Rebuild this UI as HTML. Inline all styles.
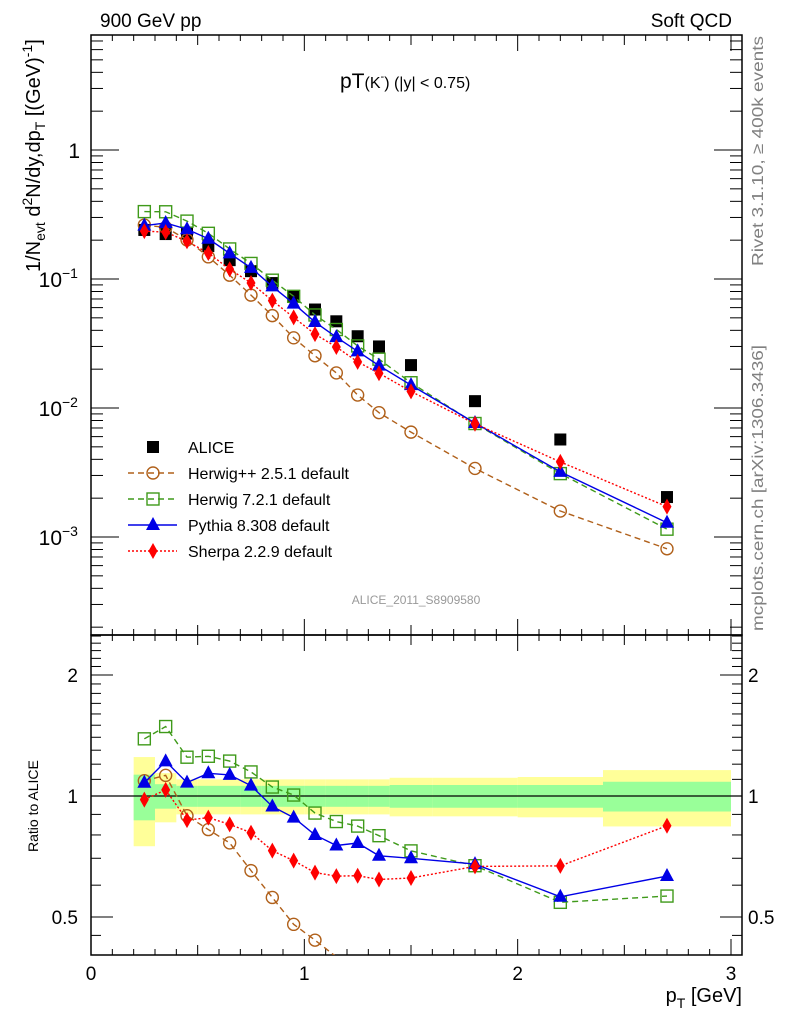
<!DOCTYPE html>
<html><head><meta charset="utf-8"><style>
body{margin:0;background:#fff;}
svg{display:block;font-family:"Liberation Sans",Arial,sans-serif;}
</style></head><body>
<svg id="chart" width="786" height="1024" viewBox="0 0 786 1024" xmlns="http://www.w3.org/2000/svg">
<text x="100" y="27" font-size="19">900 GeV pp</text>
<text x="732" y="27" font-size="19" text-anchor="end">Soft QCD</text>
<text x="340" y="88" font-size="21">pT<tspan font-size="16">(K</tspan><tspan font-size="11" dy="-8">-</tspan><tspan font-size="16" dy="8">) (|y| &lt; 0.75)</tspan></text>
<text transform="translate(763,266) rotate(-90)" font-size="16" fill="#808080" textLength="230" lengthAdjust="spacingAndGlyphs">Rivet 3.1.10, ≥ 400k events</text>
<text transform="translate(763,631) rotate(-90)" font-size="16" fill="#808080" textLength="286" lengthAdjust="spacingAndGlyphs">mcplots.cern.ch [arXiv:1306.3436]</text>
<text x="416" y="604" font-size="12" fill="#999" text-anchor="middle">ALICE_2011_S8909580</text>
<text transform="translate(40,272) rotate(-90)" font-size="20">1/N<tspan font-size="14" dy="5">evt</tspan><tspan dy="-5"> d</tspan><tspan font-size="14" dy="-8">2</tspan><tspan dy="8">N/dy,dp</tspan><tspan font-size="14" dy="5">T</tspan><tspan dy="-5"> [(GeV)</tspan><tspan font-size="14" dy="-8">-1</tspan><tspan dy="8">]</tspan></text>
<text transform="translate(38,852) rotate(-90)" font-size="14">Ratio to ALICE</text>
<text x="742" y="1002" font-size="20" text-anchor="end">p<tspan font-size="14" dy="6">T</tspan><tspan dy="-6"> [GeV]</tspan></text>
<g id="g-bands"></g>
<g id="g-axes"></g>
<g id="g-main"></g>
<g id="g-ratio"></g>
<g id="g-legend"></g>
</svg>
<script>
const pts = [0.25,0.35,0.45,0.55,0.65,0.75,0.85,0.95,1.05,1.15,1.25,1.35,1.5,1.8,2.2,2.7];
const binLo = [0.2,0.3,0.4,0.5,0.6,0.7,0.8,0.9,1.0,1.1,1.2,1.3,1.4,1.6,2.0,2.4];
const binHi = [0.3,0.4,0.5,0.6,0.7,0.8,0.9,1.0,1.1,1.2,1.3,1.4,1.6,2.0,2.4,3.0];
const alice = [0.240,0.223,0.225,0.180,0.140,0.115,0.093,0.073,0.058,0.047,0.036,0.030,0.0215,0.0113,0.0057,0.00204];
const aliceStatErr = [0.13,0.07,0.06,0.06,0.06,0.06,0.06,0.06,0.06,0.06,0.06,0.06,0.065,0.065,0.065,0.085];
const aliceTotErr = [0.25,0.14,0.10,0.10,0.10,0.10,0.10,0.10,0.10,0.10,0.10,0.10,0.11,0.11,0.115,0.16];
const herwigpp = [0.262,0.251,0.201,0.1485,0.107,0.075,0.052,0.035,0.0254,0.0187,0.0126,0.0092,0.0065,0.0034,0.00159,0.00081];
const herwig7 = [0.333,0.332,0.281,0.226,0.171,0.132,0.0979,0.0734,0.0526,0.0406,0.0303,0.0239,0.0157,0.00758,0.0031,0.00115];
const pythia = [0.259,0.272,0.243,0.205,0.158,0.122,0.0876,0.0645,0.0464,0.0354,0.0275,0.0213,0.01505,0.00765,0.0032,0.00129];
const sherpa = [0.235,0.231,0.196,0.159,0.119,0.0932,0.068,0.0504,0.0374,0.0297,0.0228,0.0186,0.01344,0.00755,0.00382,0.00172];
const mainTicks = [1,0.1,0.01,0.001];
const mainTickLabels = ["1","10","10","10"];
const mainTickExp = ["","−1","−2","−3"];
const ratioTicks = [2,1,0.5];
const ratioTickLabels = ["2","1","0.5"];
const xTicks = [0,1,2,3];
const xTickLabels = ["0","1","2","3"];

const NS="http://www.w3.org/2000/svg";
const L=91,R=742,MT=35,MB=635,RT=635,RB=955;
const X=v=>L+v*213.33;
const Ym=v=>150-129*Math.log10(v);
const Yr=v=>796-121*Math.log2(v);
function mk(tag,attrs,parent){const e=document.createElementNS(NS,tag);for(const k in attrs)e.setAttribute(k,attrs[k]);parent.appendChild(e);return e;}
const gA=document.getElementById('g-axes'),gB=document.getElementById('g-bands'),gM=document.getElementById('g-main'),gR=document.getElementById('g-ratio'),gL=document.getElementById('g-legend');

const cpR=mk('clipPath',{id:'cr'},gB);mk('rect',{x:L,y:RT,width:R-L,height:RB-RT},cpR);
for(let i=0;i<pts.length;i++){
  let r=mk('rect',{x:X(binLo[i]),width:X(binHi[i])-X(binLo[i]),y:Yr(1+aliceTotErr[i]),height:Yr(1-aliceTotErr[i])-Yr(1+aliceTotErr[i]),fill:'#ffff99'},gB);
  
  
}
for(let i=0;i<pts.length;i++){
  let r=mk('rect',{x:X(binLo[i]),width:X(binHi[i])-X(binLo[i]),y:Yr(1+aliceStatErr[i]),height:Yr(1-aliceStatErr[i])-Yr(1+aliceStatErr[i]),fill:'#99ff99'},gB);
  
  
}
let one=mk('line',{x1:L,x2:R,y1:Yr(1),y2:Yr(1),stroke:'#000','stroke-width':1.2},gB);



let f1=mk('rect',{x:L,y:MT,width:R-L,height:MB-MT,fill:'none',stroke:'#000','stroke-width':1.5},gA);


let f2=mk('rect',{x:L,y:RT,width:R-L,height:RB-RT,fill:'none',stroke:'#000','stroke-width':1.5},gA);


for(let v=0;v<=3.0001;v+=0.1){
  const major=Math.abs(v-Math.round(v))<1e-6, half=Math.abs(v*2-Math.round(v*2))<1e-6;
  const len=major?16:(half?10:6);
  const x=X(v);
  [[MT,1],[MB,-1],[RT,1],[RB,-1]].forEach(([y,d])=>mk('line',{x1:x,x2:x,y1:y,y2:y+d*len,stroke:'#000','stroke-width':1},gA));
}
xTicks.forEach((v,i)=>{let t=mk('text',{x:X(v),y:980,'font-size':19,'text-anchor':'middle'},gA);t.textContent=xTickLabels[i];

});
for(let d=-4;d<=1;d++)for(let m=1;m<10;m++){
  const v=m*Math.pow(10,d),y=Ym(v);if(y<MT||y>MB)continue;
  const len=m==1?28:12;
  mk('line',{x1:L,x2:L+len,y1:y,y2:y,stroke:'#000'},gA);
  mk('line',{x1:R,x2:R-len,y1:y,y2:y,stroke:'#000'},gA);
}
mainTicks.forEach((v,i)=>{let t=mk('text',{x:mainTickExp[i]?62:80,y:Ym(v)+8,'font-size':21,'text-anchor':'end'},gA);t.textContent=mainTickLabels[i];


if(mainTickExp[i]){let e=mk('text',{x:62,y:Ym(v)-1,'font-size':14},gA);e.textContent=mainTickExp[i];}});
[0.4,0.45,0.5,0.6,0.7,0.8,0.9,1,1.1,1.2,1.3,1.4,1.5,1.6,1.7,1.8,1.9,2,2.1,2.2,2.3,2.4,2.5].forEach(v=>{
  const y=Yr(v);if(y<RT||y>RB)return;const len=(v==0.5||v==1||v==2)?22:10;
  mk('line',{x1:L,x2:L+len,y1:y,y2:y,stroke:'#000'},gA);
  mk('line',{x1:R,x2:R-len,y1:y,y2:y,stroke:'#000'},gA);
});
ratioTicks.forEach((v,i)=>{
  let t=mk('text',{x:78,y:Yr(v)+7,'font-size':19,'text-anchor':'end'},gA);t.textContent=ratioTickLabels[i];
  
  
  let t2=mk('text',{x:748,y:Yr(v)+7,'font-size':19},gA);t2.textContent=ratioTickLabels[i];
  
  
});

function marker(g,type,x,y,color){
  if(type=='sq')return mk('rect',{x:x-6,y:y-6,width:12,height:12,fill:'#000'},g);
  if(type=='circ')return mk('circle',{cx:x,cy:y,r:6,fill:'none',stroke:color,'stroke-width':1.4},g);
  if(type=='osq')return mk('rect',{x:x-6,y:y-6,width:12,height:12,fill:'none',stroke:color,'stroke-width':1.4},g);
  if(type=='tri')return mk('polygon',{points:`${x},${y-8} ${x-7},${y+5} ${x+7},${y+5}`,fill:color},g);
  if(type=='dia')return mk('polygon',{points:`${x},${y-8} ${x-4.5},${y} ${x},${y+8} ${x+4.5},${y}`,fill:color},g);
}
const cpM=mk('clipPath',{id:'cm'},gM);mk('rect',{x:L,y:MT,width:R-L,height:MB-MT},cpM);
const series=[
 {name:'herwigpp',vals:herwigpp,color:'#b0601a',dash:'6,4',type:'circ',label:'Herwig++ 2.5.1 default'},
 {name:'herwig7',vals:herwig7,color:'#3f9a1a',dash:'6,4',type:'osq',label:'Herwig 7.2.1 default'},
 {name:'pythia',vals:pythia,color:'#0000e6',dash:'',type:'tri',label:'Pythia 8.308 default'},
 {name:'sherpa',vals:sherpa,color:'#ff0000',dash:'2,2',type:'dia',label:'Sherpa 2.2.9 default'}];
alice.forEach((v,i)=>{let m=marker(gM,'sq',X(pts[i]),Ym(v));

});
series.forEach(s=>{
  const gm=mk('g',{'clip-path':'url(#cm)'},gM), gr=mk('g',{'clip-path':'url(#cr)'},gR);
  let p=mk('polyline',{points:s.vals.map((v,i)=>X(pts[i])+','+Ym(v)).join(' '),fill:'none',stroke:s.color,'stroke-width':1.4,'stroke-dasharray':s.dash},gm);
  
  
  s.vals.forEach((v,i)=>{let m=marker(gm,s.type,X(pts[i]),Ym(v),s.color);
    
    });
  let q=mk('polyline',{points:s.vals.map((v,i)=>X(pts[i])+','+Yr(v/alice[i])).join(' '),fill:'none',stroke:s.color,'stroke-width':1.4,'stroke-dasharray':s.dash},gr);
  
  
  s.vals.forEach((v,i)=>{const yy=Yr(v/alice[i]);if(yy>RB-2||yy<RT+2)return;
    let m=marker(gr,s.type,X(pts[i]),yy,s.color);
    
    });
});
const rows=[{label:'ALICE',type:'sq',color:'#000',dash:null}].concat(series);
rows.forEach((s,i)=>{
  const y=447+i*26,g=mk('g',{},gL);
  
  
  if(s.dash!==null&&s.dash!==undefined)mk('line',{x1:128,x2:177,y1:y,y2:y,stroke:s.color,'stroke-width':1.4,'stroke-dasharray':s.dash},g);
  marker(g,s.type,153,y,s.color);
  const t=mk('text',{x:188,y:y+6,'font-size':16},g);t.textContent=s.label;
});
</script>
</body></html>
